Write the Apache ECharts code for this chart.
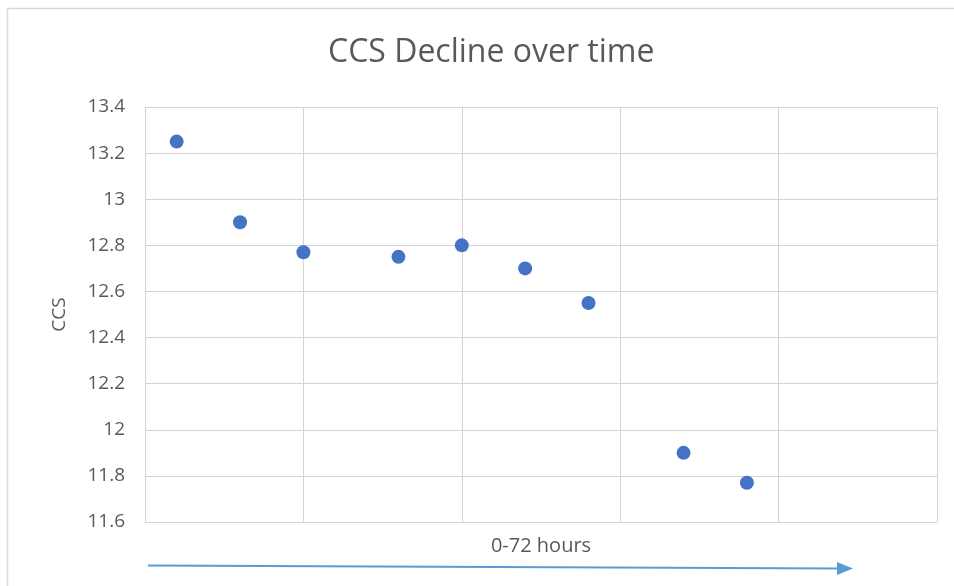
<!DOCTYPE html>
<html>
<head>
<meta charset="utf-8">
<script src="https://cdn.jsdelivr.net/npm/echarts@6/dist/echarts.min.js"></script>
<style>
  html, body { margin: 0; padding: 0; background: #fff; }
  #chart { width: 954px; height: 586px; }
</style>
</head>
<body>
<div id="chart"></div>
<script>
// Sampling positions along the 0-72 hour run (axis units) and CCS readings
const sampleX = [2, 6, 10, 16, 20, 24, 28, 34, 38];
const ccsValues = [13.25, 12.9, 12.77, 12.75, 12.8, 12.7, 12.55, 11.9, 11.77];
const yTicks = { min: 11.6, max: 13.4, step: 0.2 };
const xTicks = { min: 0, max: 50, step: 10 };

const points = sampleX.map((x, i) => [x, ccsValues[i]]);
const font = '"Open Sans", "Liberation Sans", sans-serif';

const chart = echarts.init(document.getElementById('chart'));
chart.setOption({
  backgroundColor: '#ffffff',
  animation: false,
  title: {
    text: 'CCS Decline over time',
    left: 323,
    top: 32,
    textStyle: { fontFamily: font, fontSize: 32, fontWeight: 'normal', color: '#595959' }
  },
  grid: { left: 145, right: 17, top: 107, bottom: 64 },
  xAxis: {
    type: 'value',
    min: xTicks.min, max: xTicks.max, interval: xTicks.step,
    name: '0-72 hours',
    nameLocation: 'middle',
    nameGap: 14,
    nameTextStyle: { fontFamily: font, fontSize: 20, color: '#595959' },
    axisLine: { show: true, lineStyle: { color: '#d4d4d4' } },
    axisTick: { show: false },
    axisLabel: { show: false },
    splitLine: { show: true, lineStyle: { color: '#d4d4d4', width: 1 } }
  },
  yAxis: {
    type: 'value',
    min: yTicks.min, max: yTicks.max, interval: yTicks.step,
    name: 'CCS',
    nameLocation: 'middle',
    nameGap: 76,
    nameTextStyle: { fontFamily: font, fontSize: 19, color: '#595959' },
    axisLine: { show: true, lineStyle: { color: '#d4d4d4' } },
    axisTick: { show: false },
    axisLabel: {
      fontFamily: font, fontSize: 19, color: '#595959', margin: 20,
      formatter: v => String(parseFloat(v.toFixed(1)))
    },
    splitLine: { show: true, lineStyle: { color: '#d4d4d4', width: 1 } }
  },
  series: [{
    type: 'scatter',
    data: points,
    symbol: 'circle',
    symbolSize: 14,
    itemStyle: { color: '#4472c4', opacity: 1 }
  }],
  graphic: [
    {
      type: 'rect',
      shape: { x: 7.5, y: 8.5, width: 1000, height: 700 },
      style: { fill: 'none', stroke: '#d9d9d9', lineWidth: 1.5 },
      silent: true
    },
    {
      type: 'line',
      shape: { x1: 148, y1: 565.5, x2: 840, y2: 568.5 },
      style: { stroke: '#5b9bd5', lineWidth: 2 },
      silent: true
    },
    {
      type: 'polygon',
      shape: { points: [[837, 562], [853, 568.5], [837, 575]] },
      style: { fill: '#5b9bd5' },
      silent: true
    }
  ]
});
</script>
</body>
</html>
